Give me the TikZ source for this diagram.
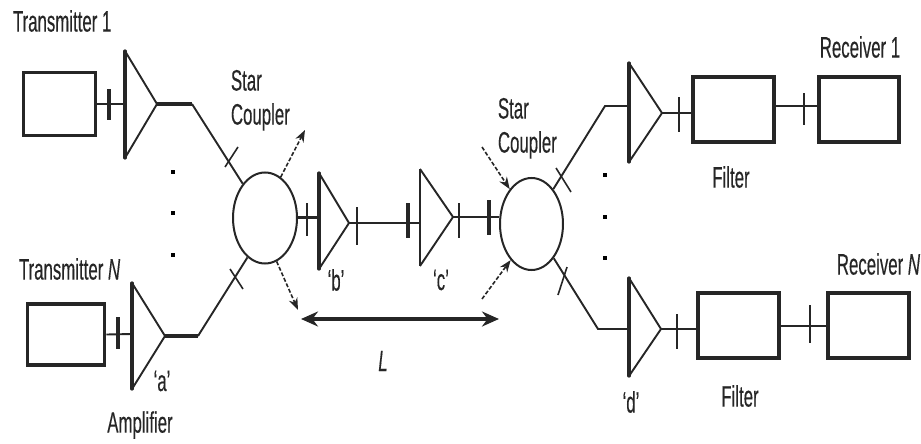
\documentclass[tikz,border=0pt]{standalone}
\usepackage{fontspec}
\usetikzlibrary{shapes.geometric,arrows.meta}
\setmainfont[FakeStretch=0.57,FakeBold=0.25]{Liberation Sans}
\begin{document}
\begin{tikzpicture}[x=1pt,y=-1pt,line width=1.9pt,draw=black!85,
  box node/.style={rectangle,draw=black!85,line width=3.6pt,minimum width=79pt,minimum height=63pt,inner sep=0pt},
  star node/.style={ellipse,draw=black!85,line width=2pt,minimum width=64pt,minimum height=91pt,inner sep=0pt},
  label node/.style={text=black!85,inner sep=0pt,font=\fontsize{29.5}{33}\selectfont,align=left},
  dot node/.style={rectangle,fill=black,minimum size=4pt,inner sep=0pt}]
\tikzstyle{thick edge} = [draw,line width=3.6pt]
\tikzstyle{side edge} = [draw,line width=3.2pt,line cap=round]
\tikzstyle{cross edge} = [draw,line width=1.6pt]
\tikzstyle{heavy tick} = [draw,line width=3.2pt]
\tikzstyle{loss edge} = [draw,line width=1.6pt,dash pattern=on 4pt off 2pt,-{Stealth[length=12pt,width=9pt]}]
\useasboundingbox (0,0) rectangle (921,444);

% Transmitter 1
\node[box node,minimum width=72pt] (tx1) at (59.5,104) {};
\node[label node,anchor=west] (tx1label) at (12,21) {Transmitter 1};
\coordinate (amp1in) at (125,104);
\coordinate (amp1tip) at (157,104);
\coordinate (bend1) at (192,104);
\draw (tx1) -- (amp1in);
\draw[heavy tick] (109,89) -- (109,120);
\draw[side edge] (125,51) -- (125,158);
\draw (125,51) -- (amp1tip) -- (125,158);
\draw[thick edge] (amp1tip) -- (bend1);

% Transmitter N
\node[box node,minimum width=77pt,minimum height=61pt] (txn) at (66,334.5) {};
\node[label node,anchor=west] (txnlabel) at (18,269) {Transmitter \textit{N}};
\coordinate (ampain) at (132,334);
\coordinate (ampatip) at (165,336);
\coordinate (bend2) at (198,336);
\draw (txn.east) -- (ampain);
\draw[heavy tick] (118,317) -- (118,349);
\draw[side edge] (132,283) -- (132,389);
\draw (132,283) -- (ampatip) -- (132,389);
\draw[thick edge] (ampatip) -- (bend2);
\node[label node] (labela) at (162,381) {‘a’};
\node[label node] (amplabel) at (140,425) {Amplifier};

% first coupler
\node[star node] (star1) at (265,218) {};
\node[label node,anchor=north west] (star1label) at (230,69) {Star\\[1pt]Coupler};
\draw (bend1) -- (star1.123);
\draw (bend2) -- (star1.246);
\draw[cross edge] (238,147) -- (225,167);
\draw[cross edge] (230,269) -- (243,289);
\coordinate (loss1) at (305,130);
\coordinate (loss2) at (298,310);
\draw[loss edge] (star1.69) -- (loss1);
\draw[loss edge] (star1.285) -- (loss2);

\node[dot node] (dot1) at (173,172) {};
\node[dot node] (dot2) at (173,213) {};
\node[dot node] (dot3) at (173,255) {};

% line amplifiers
\coordinate (ampbin) at (319,217);
\coordinate (ampbtip) at (349,223);
\coordinate (ampcin) at (420,223);
\coordinate (ampctip) at (453,217);
\draw[line width=3pt] (star1.east |- ampbin) -- (ampbin);
\draw[cross edge,line width=2pt] (307,203) -- (307,236);
\draw[side edge] (319,173) -- (319,269);
\draw (319,173) -- (ampbtip) -- (319,269);
\draw[line width=2.4pt] (ampbtip) -- (ampcin);
\draw[cross edge,line width=2pt] (357,207) -- (357,245);
\draw[heavy tick] (408,203) -- (408,238);
\draw[line width=2.2pt] (420,169) -- (420,266);
\draw (420,169) -- (ampctip) -- (420,266);
\node[label node] (labelb) at (336,280) {‘b’};
\node[label node] (labelc) at (441,280) {‘c’};

% second coupler
\node[star node,minimum width=63pt,minimum height=92pt] (star2) at (531.5,224) {};
\node[label node,anchor=north west] (star2label) at (497,97) {Star\\[1pt]Coupler};
\draw (ampctip) -- (star2.west |- ampctip);
\draw[cross edge,line width=2pt] (459,203) -- (459,238);
\draw[heavy tick] (489,200) -- (489,235);
\coordinate (loss3) at (482,147);
\coordinate (loss4) at (482,299);
\draw[loss edge] (loss3) -- (star2.122);
\draw[loss edge] (loss4) -- (star2.240);

% span
\coordinate (spanl) at (301,319);
\coordinate (spanr) at (499,319);
\draw[{Stealth[length=17pt,width=15pt]}-{Stealth[length=17pt,width=15pt]},line width=3.4pt] (spanl) -- (spanr);
\node[label node] (spanlabel) at (383,361) {\textit{L}};

% Receiver 1
\coordinate (bend3) at (605,106);
\coordinate (ampin1) at (629,106);
\coordinate (amptip1) at (662,113);
\node[box node,minimum width=81pt,minimum height=65pt] (filter1) at (733.5,109.5) {};
\node[box node,minimum width=80pt,minimum height=65pt] (rx1) at (859,109.5) {};
\draw (star2.58) -- (bend3) -- (ampin1);
\draw[cross edge] (556,168) -- (571,192);
\draw[side edge] (629,63) -- (629,162);
\draw (629,63) -- (amptip1) -- (629,162);
\draw (amptip1) -- (filter1.west |- amptip1);
\draw[cross edge] (679,97) -- (679,132);
\draw (filter1.east |- 0,106) -- (rx1.west |- 0,106);
\draw[cross edge,line width=2pt] (804,93) -- (804,125);
\node[label node] (filter1label) at (731,177) {Filter};
\node[label node] (rx1label) at (860,47) {Receiver 1};

% Receiver N
\coordinate (bend4) at (598,329);
\coordinate (ampdin) at (629,329);
\coordinate (ampdtip) at (661,329);
\node[box node,minimum width=81pt,minimum height=65pt] (filter2) at (738.5,325.5) {};
\node[box node,minimum width=81pt,minimum height=65pt] (rxn) at (868.5,325.5) {};
\draw (star2.303) -- (bend4) -- (ampdin);
\draw[cross edge] (567,267) -- (558,295);
\draw[side edge] (629,278) -- (629,376);
\draw (629,278) -- (ampdtip) -- (629,376);
\draw (ampdtip) -- (filter2.west |- ampdtip);
\draw[cross edge] (677,314) -- (677,349);
\draw (filter2.east |- 0,326) -- (rxn.west |- 0,326);
\draw[cross edge] (810,305) -- (810,343);
\node[label node] (labeld) at (631,402) {‘d’};
\node[label node] (filter2label) at (740,396) {Filter};
\node[label node,anchor=east] (rxnlabel) at (921,264) {Receiver \textit{N}};

\node[dot node] (dot4) at (605,175) {};
\node[dot node] (dot5) at (605,217) {};
\node[dot node] (dot6) at (605,258) {};
\end{tikzpicture}
\end{document}
